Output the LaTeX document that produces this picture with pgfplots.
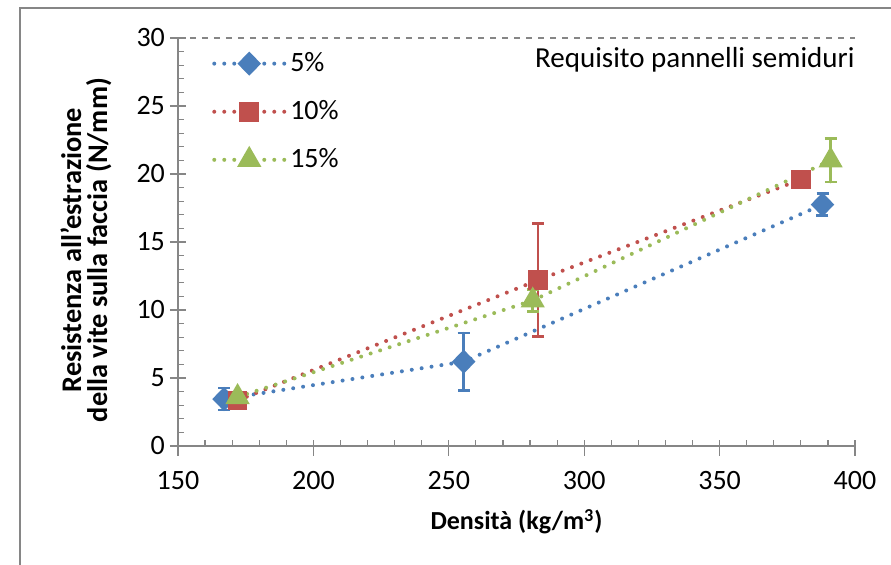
\documentclass[border=0pt]{standalone}
\usepackage{pgfplots}
\pgfplotsset{compat=1.18}
\usepackage{fontspec}
\setmainfont{Carlito}

\definecolor{sblue}{HTML}{4A7EBB}
\definecolor{sred}{HTML}{C0504D}
\definecolor{sgreen}{HTML}{9BBB59}
\definecolor{axgray}{HTML}{868686}

\pgfplotsset{
  errs/.style={
    error bars/.cd, y dir=both, y explicit,
    error bar style={solid, line width=1.3pt},
    error mark options={rotate=90, mark size=3pt, line width=1.3pt, solid}
  },
  dots/.style={line width=2pt, line cap=round, dash pattern=on 0pt off 5pt}
}

\begin{document}
\begin{tikzpicture}
\useasboundingbox (0,0) rectangle (445.5pt,282.5pt);
\draw[axgray, line width=0.8pt] (10pt,-5pt) -- (10pt,278.5pt) -- (460pt,278.5pt);
\begin{axis}[
    at={(89pt,59.5pt)}, anchor=origin,
    scale only axis,
    width=338.5pt, height=204pt,
    xmin=150, xmax=400, ymin=0, ymax=30,
    xtick={150,200,...,400}, ytick={0,5,...,30},
    minor x tick num=4, minor y tick num=4,
    axis x line=bottom, axis y line=left,
    axis line style={axgray, line width=0.8pt, -},
    tick style={axgray, line width=0.6pt},
    tick align=inside,
    major tick length=8pt, minor tick length=3pt,
    major x tick style={yshift=-5pt},
    major y tick style={xshift=-4pt},
    /pgf/number format/assume math mode=true,
    ticklabel style={font=\fontsize{14}{16}\selectfont, text=black},
    xticklabel style={yshift=-9pt},
    yticklabel style={xshift=-3pt},
    xlabel={\textbf{Densità (kg/m\textsuperscript{3})}},
    xlabel style={font=\fontsize{13}{15}\selectfont, at={(axis description cs:0.5,-0.186)}, anchor=center},
    ylabel={\textbf{Resistenza all'estrazione}\\\textbf{della vite sulla faccia (N/mm)}},
    ylabel style={font=\fontsize{14.2}{13}\selectfont, align=center, at={(axis description cs:-0.136,0.48)}, anchor=center},
    legend style={at={(axis description cs:0.05,0.975)}, anchor=north west, draw=none, fill=none,
      font=\fontsize{14}{16}\selectfont, row sep=9pt, inner sep=0pt},
    legend cell align=left,
    legend image code/.code={\draw[mark repeat=2, mark phase=2, #1] plot coordinates {(0pt,0pt) (17.5pt,0pt) (35pt,0pt)};},
    clip=false,
]
\addplot[axgray, dashed, line width=0.6pt, forget plot] coordinates {(150,30) (400,30)};

\addplot[sblue, dots, mark=diamond*, mark options={solid, xscale=1.3}, mark size=4.6pt, errs]
  coordinates {(167,3.45) +- (0,0.8) (255.5,6.2) +- (0,2.1) (388,17.75) +- (0,0.8)};
\addlegendentry{5\%}
\addplot[sred, dots, mark=square*, mark options={solid}, mark size=3.9pt, errs]
  coordinates {(172,3.35) +- (0,0.4) (283,12.2) +- (0,4.15) (380,19.6) +- (0,0.3)};
\addlegendentry{10\%}
\addplot[sgreen, dots, mark=triangle*, mark options={solid}, mark size=5pt, errs]
  coordinates {(172,3.6) +- (0,0.3) (281,10.7) +- (0,0.8) (391,21.0) +- (0,1.6)};
\addlegendentry{15\%}

\node[anchor=east, font=\fontsize{14.5}{16}\selectfont, inner sep=0pt] at (axis cs:400,28.4) {Requisito pannelli semiduri};
\end{axis}
\end{tikzpicture}
\end{document}
